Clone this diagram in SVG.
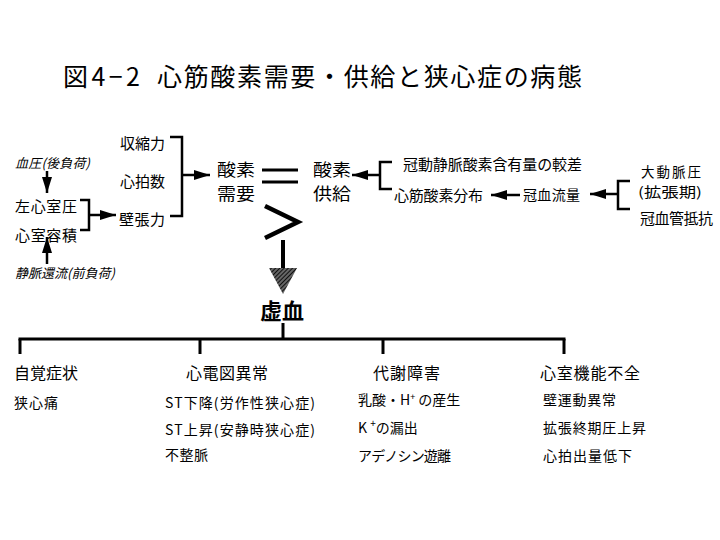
<svg xmlns="http://www.w3.org/2000/svg" width="720" height="540" viewBox="0 0 720 540">
<style>
text{font-family:"Noto Sans CJK JP","Noto Sans CJK SC",sans-serif;fill:#000}
.t{font-size:25px}
.m{font-size:15px}
.b{font-size:16.5px}
.a{font-size:13.5px}
.s{font-size:14px}
.h{font-size:16px}
.i{font-size:13px;font-style:italic}
.ln{stroke:#000;stroke-width:2.5;fill:none}
.tr{stroke:#000;stroke-width:3;fill:none}
</style>
<defs>
<marker id="ah" markerUnits="userSpaceOnUse" markerWidth="16" markerHeight="10" refX="16" refY="5" orient="auto">
<path d="M0,0 L16,5 L0,10 z" fill="#000"/>
</marker>
<pattern id="hatch" width="3" height="3" patternUnits="userSpaceOnUse" patternTransform="rotate(45)">
<rect width="3" height="3" fill="#666"/>
<line x1="0" y1="0" x2="0" y2="3" stroke="#111" stroke-width="2"/>
</pattern>
</defs>
<rect width="720" height="540" fill="#fff"/>

<g id="title">
<text class="t" x="63" y="86" textLength="77">図4−2</text>
<text class="t" x="157" y="86" textLength="425">心筋酸素需要・供給と狭心症の病態</text>
</g>

<g id="connectors">
<line class="ln" x1="47" y1="171" x2="47" y2="193" marker-end="url(#ah)"/>
<line class="ln" x1="47" y1="264" x2="47" y2="237" marker-end="url(#ah)"/>
<polyline class="ln" points="80,200 89,200 89,230 80,230"/>
<line class="ln" x1="89" y1="215" x2="116" y2="215" marker-end="url(#ah)"/>
<polyline class="ln" points="170,137 182,137 182,216 170,216"/>
<line class="ln" x1="182" y1="175" x2="210" y2="175" marker-end="url(#ah)"/>
<polyline class="ln" points="392,162 380,162 380,189 392,189"/>
<line class="ln" x1="380" y1="175" x2="352" y2="175" marker-end="url(#ah)"/>
<line class="ln" x1="520" y1="195" x2="491" y2="195" marker-end="url(#ah)"/>
<polyline class="ln" points="630,181 618,181 618,209 630,209"/>
<line class="ln" x1="618" y1="194" x2="590" y2="194" marker-end="url(#ah)"/>
<line x1="262" y1="170" x2="298" y2="170" stroke="#000" stroke-width="3"/>
<line x1="262" y1="182" x2="298" y2="182" stroke="#000" stroke-width="3"/>
<polyline points="265,206 298,222 265,238" stroke="#000" stroke-width="4.5" fill="none"/>
<line x1="283" y1="240" x2="283" y2="269" stroke="#000" stroke-width="4"/>
<polygon points="269,268 297,268 283,294" fill="url(#hatch)"/>
<line class="tr" x1="283" y1="323" x2="283" y2="339"/>
<line class="tr" x1="18.5" y1="339" x2="565.5" y2="339"/>
<line class="tr" x1="20" y1="339" x2="20" y2="354"/>
<line class="tr" x1="200" y1="339" x2="200" y2="354"/>
<line class="tr" x1="383" y1="339" x2="383" y2="354"/>
<line class="tr" x1="564" y1="339" x2="564" y2="354"/>
</g>

<g id="n-afterload"><text class="i" x="15" y="168" textLength="75">血圧(後負荷)</text></g>
<g id="n-lvp"><text class="m" x="15" y="212" textLength="62">左心室圧</text></g>
<g id="n-vol"><text class="m" x="15" y="241" textLength="62">心室容積</text></g>
<g id="n-preload"><text class="i" x="15" y="278" textLength="100">静脈還流(前負荷)</text></g>
<g id="n-contract"><text class="m" x="120" y="149" textLength="45">収縮力</text></g>
<g id="n-hr"><text class="m" x="120" y="187" textLength="45">心拍数</text></g>
<g id="n-wall"><text class="m" x="119" y="225" textLength="46">壁張力</text></g>
<g id="n-demand">
<text class="b" x="217" y="176" textLength="38" lengthAdjust="spacingAndGlyphs">酸素</text>
<text class="b" x="217" y="200" textLength="38" lengthAdjust="spacingAndGlyphs">需要</text>
</g>
<g id="n-supply">
<text class="b" x="313" y="176" textLength="38" lengthAdjust="spacingAndGlyphs">酸素</text>
<text class="b" x="313" y="200" textLength="38" lengthAdjust="spacingAndGlyphs">供給</text>
</g>
<g id="n-avdiff"><text class="m" x="403" y="170" textLength="179">冠動静脈酸素含有量の較差</text></g>
<g id="n-dist"><text class="m" x="394" y="201" textLength="89">心筋酸素分布</text></g>
<g id="n-cbf"><text class="s" x="523" y="200" textLength="57">冠血流量</text></g>
<g id="n-aorta">
<text class="a" x="641" y="177" textLength="60">大動脈圧</text>
<text class="a" x="638" y="197" textLength="64" lengthAdjust="spacingAndGlyphs">(拡張期)</text>
</g>
<g id="n-resist"><text class="m" x="640" y="224" textLength="73">冠血管抵抗</text></g>
<g id="n-ischemia"><text x="260" y="319" style="font-size:22px;font-weight:bold" textLength="44">虚血</text></g>

<g id="n-symptom">
<text class="h" x="14" y="379" textLength="64">自覚症状</text>
<text class="s" x="14" y="408" textLength="44">狭心痛</text>
</g>
<g id="n-ecg">
<text class="h" x="186" y="379" textLength="82">心電図異常</text>
<text class="s" x="165" y="408" textLength="150">ST下降(労作性狭心症)</text>
<text class="s" x="165" y="435" textLength="150">ST上昇(安静時狭心症)</text>
<text class="s" x="165" y="460" textLength="43">不整脈</text>
</g>
<g id="n-metab">
<text class="h" x="373" y="379" textLength="67">代謝障害</text>
<text class="s" x="358" y="405">乳酸・H<tspan font-size="9" dy="-5">+</tspan><tspan dy="5"> の産生</tspan></text>
<text class="s" x="358" y="433">K <tspan font-size="10" dy="-6">+</tspan><tspan dy="6">の漏出</tspan></text>
<text class="s" x="358" y="461" textLength="93">アデノシン遊離</text>
</g>
<g id="n-lvdys">
<text class="h" x="540" y="379" textLength="100">心室機能不全</text>
<text class="s" x="543" y="405" textLength="73">壁運動異常</text>
<text class="s" x="543" y="433" textLength="103">拡張終期圧上昇</text>
<text class="s" x="543" y="461" textLength="89">心拍出量低下</text>
</g>
</svg>
